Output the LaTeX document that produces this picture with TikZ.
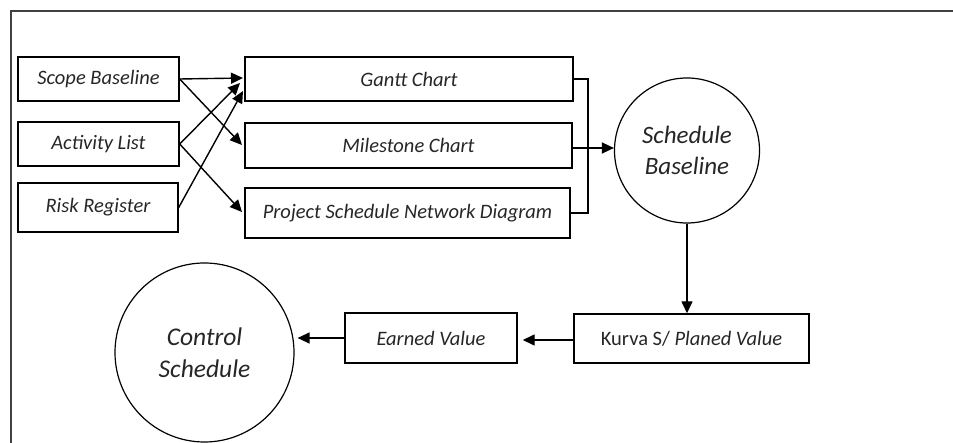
\documentclass[tikz,border=0pt]{standalone}
\usepackage{fontspec}
\setmainfont{Carlito}
\usetikzlibrary{arrows.meta}
\begin{document}
\begin{tikzpicture}[x=1pt,y=-1pt,
  box/.style={draw, line width=1.4pt, rectangle, inner sep=0pt, font=\fontsize{20.5}{24}\selectfont\itshape, text=black!85},
  circ/.style={draw, line width=1.2pt, circle, inner sep=0pt, align=center, text=black!85},
  conn/.style={line width=1.4pt, -{Triangle[length=12pt,width=11pt]}},
  plain/.style={line width=1.4pt}]
\useasboundingbox (0,0) rectangle (953,443);
% frame
\draw[line width=1.6pt, black!75] (953,11) -- (11,11) -- (11,443);
% left column
\node[box, minimum width=161pt, minimum height=44pt] (scope) at (98.5,79) {Scope Baseline};
\node[box, minimum width=161pt, minimum height=44pt] (act) at (98.5,144) {Activity List};
\node[box, minimum width=160pt, minimum height=49pt] (risk) at (98,207.5) {Risk Register};
% middle column
\node[box, minimum width=328pt, minimum height=44pt] (gantt) at (409,79) {Gantt Chart};
\node[box, minimum width=327pt, minimum height=45pt] (mile) at (408.5,145.5) {Milestone Chart};
\node[box, minimum width=325pt, minimum height=50pt] (psnd) at (407.5,213) {Project Schedule Network Diagram};
% circles
\node[circ, minimum size=145pt, font=\fontsize{25}{31}\selectfont\itshape] (sched) at (687,150.5) {Schedule\\Baseline};
\node[circ, minimum size=179pt, font=\fontsize{25.5}{32}\selectfont\itshape] (ctrl) at (204.5,352.5) {Control\\Schedule};
% bottom boxes
\node[box, minimum width=235pt, minimum height=49pt, font=\fontsize{20.5}{24}\selectfont] (kurva) at (691.5,338.5) {Kurva S/ \textit{Planed Value}};
\node[box, minimum width=172pt, minimum height=50pt] (earned) at (431,338) {Earned Value};
% coordinates
\coordinate (g1) at (243,78);
\coordinate (g2) at (240,83);
\coordinate (g3) at (243,91);
\coordinate (m1) at (242,145);
\coordinate (p1) at (242,212);
\coordinate (bx) at (588,79);
\coordinate (by) at (588,213);
% input arrows
\draw[conn] (scope.east) -- (g1);
\draw[conn] (scope.east) -- (m1);
\draw[conn] (act.east) -- (g2);
\draw[conn] (act.east) -- (p1);
\draw[conn] (risk.east) -- (g3);
% bracket
\draw[plain] (gantt.east) -- (bx) -- (by) -- (psnd.east |- by);
\draw[conn] (mile.east |- 0,148) -- (sched.west |- 0,148);
% lower flow
\draw[conn] (sched.south) -- (sched.south |- kurva.north);
\draw[conn] (kurva.west |- 0,340) -- ([xshift=5pt]earned.east |- 0,340);
\draw[conn] (earned.west |- 0,338) -- ([xshift=3pt]ctrl.east |- 0,338);
\end{tikzpicture}
\end{document}
